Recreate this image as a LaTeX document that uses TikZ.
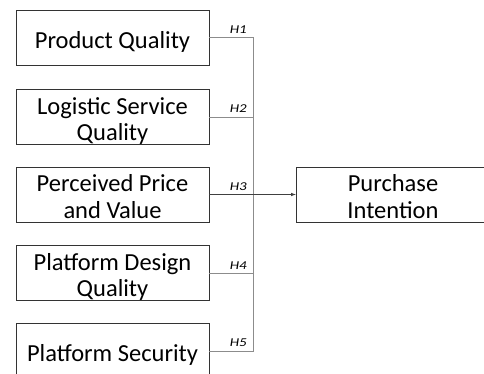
\documentclass[tikz,border=0pt]{standalone}
\usepackage{fontspec}
\setmainfont{Carlito}
\newfontfamily\hypfont[FakeStretch=1.25]{Carlito}
\begin{document}
\begin{tikzpicture}[x=1pt,y=1pt]
\tikzset{factor/.style={draw=black!80,minimum width=193pt,minimum height=55pt,align=center,inner sep=0pt,
    font=\fontsize{24.5}{26.5}\selectfont,text depth=3.5pt,
    execute at begin node={\rule{0pt}{#1}}},
  factor/.default=25.1pt,
  hyp/.style={font=\hypfont\fontsize{12}{14}\selectfont\itshape,anchor=south east,inner sep=0pt,xshift=-6pt,yshift=3.7pt},
  link/.style={draw=black!45,line width=0.6pt}}
\useasboundingbox (0,0) rectangle (484,-374);
\node[factor](pq) at (112.5,-37.5){Product Quality};
\node[factor=51.3pt](ls) at (112.5,-117){Logistic Service\\Quality};
\node[factor=51.3pt](pp) at (112.5,-194.5){Perceived Price\\and Value};
\node[factor=51.3pt](pd) at (112.5,-273){Platform Design\\Quality};
\node[factor](ps) at (112.5,-351){Platform Security};
\node[factor=51.3pt,minimum width=194pt](pi) at (393,-194.5){Purchase\\Intention};
\coordinate (j) at (253,-194.5);
\draw[link] (pq.east) -| (j) node[hyp,pos=0.5]{H1};
\draw[link] (ls.east) -| (j) node[hyp,pos=0.5]{H2};
\draw[link] (pd.east) -| (j) node[hyp,pos=0.5]{H4};
\draw[link] (ps.east) -| (j) node[hyp,pos=0.5]{H5};
\draw[link,draw=black!75,-latex] (pp.east) -- (pi.west);
\node[hyp] at (j) {H3};
\end{tikzpicture}
\end{document}
